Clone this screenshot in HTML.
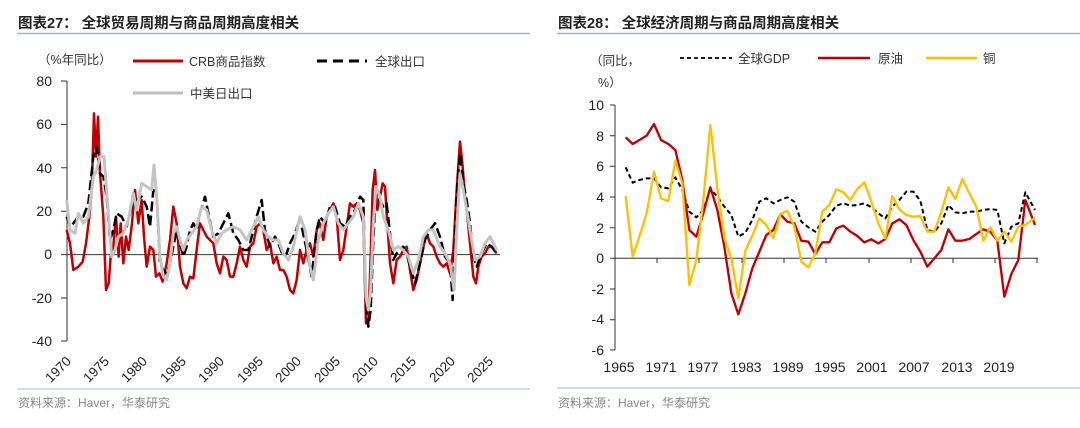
<!DOCTYPE html><html><head><meta charset="utf-8"><style>
body{margin:0;background:#fff;width:1080px;height:423px;overflow:hidden}
svg{font-family:"Liberation Sans","Noto Sans CJK SC",sans-serif}
</style></head><body>
<svg width="1080" height="423" viewBox="0 0 1080 423">
<g font-weight="bold" font-size="14.5" fill="#222">
<text x="18" y="28">图表27：  全球贸易周期与商品周期高度相关</text>
<text x="558" y="28">图表28：  全球经济周期与商品周期高度相关</text>
</g>
<line x1="17" y1="33.5" x2="530" y2="33.5" stroke="#9fb5d3" stroke-width="1.5"/>
<line x1="557" y1="33.5" x2="1080" y2="33.5" stroke="#9fb5d3" stroke-width="1.5"/>
<line x1="17" y1="389" x2="530" y2="389" stroke="#b5c6de" stroke-width="1.2"/>
<line x1="557" y1="388" x2="1080" y2="388" stroke="#b5c6de" stroke-width="1.2"/>
<g font-size="12" fill="#888"><text x="18" y="407">资料来源：Haver，华泰研究</text><text x="558" y="407">资料来源：Haver，华泰研究</text></g>

<!-- LEFT -->
<g font-size="12.5" fill="#333">
<text x="38" y="64">（%年同比）</text>
<text x="189" y="66">CRB商品指数</text><text x="375" y="66">全球出口</text><text x="190" y="98">中美日出口</text>
</g>
<line x1="133" y1="61" x2="183" y2="61" stroke="#c00000" stroke-width="3"/>
<line x1="317" y1="61" x2="367" y2="61" stroke="#000" stroke-width="3" stroke-dasharray="10,6"/>
<line x1="133" y1="93" x2="183" y2="93" stroke="#bfbfbf" stroke-width="3"/>
<g font-size="14" fill="#222" text-anchor="end">
<text x="52" y="86">80</text><text x="52" y="129">60</text><text x="52" y="173">40</text><text x="52" y="216">20</text><text x="52" y="259">0</text><text x="52" y="303">-20</text><text x="52" y="346">-40</text>
</g>
<path d="M67 81V341M61 81H67M61 124.4H67M61 167.8H67M61 211.2H67M61 254.6H67M61 298H67M61 341H67" stroke="#333" fill="none"/>
<line x1="67" y1="254.6" x2="500" y2="254.6" stroke="#333"/>
<g font-size="13.5" fill="#222" text-anchor="end">
<text transform="translate(72,362) rotate(-45)">1970</text>
<text transform="translate(110,362) rotate(-45)">1975</text>
<text transform="translate(148,362) rotate(-45)">1980</text>
<text transform="translate(187,362) rotate(-45)">1985</text>
<text transform="translate(225,362) rotate(-45)">1990</text>
<text transform="translate(264,362) rotate(-45)">1995</text>
<text transform="translate(302,362) rotate(-45)">2000</text>
<text transform="translate(341,362) rotate(-45)">2005</text>
<text transform="translate(379,362) rotate(-45)">2010</text>
<text transform="translate(417,362) rotate(-45)">2015</text>
<text transform="translate(456,362) rotate(-45)">2020</text>
<text transform="translate(494,362) rotate(-45)">2025</text>
</g>
<g transform="translate(0,90) scale(0.33333)" fill="none" stroke-linejoin="round">
<polyline stroke="#c00000" stroke-width="7.5" points="200,420 210,460 220,540 235,530 248,515 258,460 268,380 275,300 282,70 288,200 294,80 300,250 310,380 318,600 326,580 332,500 340,470 348,380 356,500 362,400 370,520 378,440 386,480 396,400 405,300 415,400 425,330 432,440 440,530 450,470 460,480 468,560 478,550 488,575 500,520 510,450 520,350 530,400 540,530 550,580 560,595 570,560 580,565 590,480 600,400 610,420 620,440 630,450 640,460 650,520 660,550 670,500 680,510 690,560 700,560 710,520 720,470 730,510 740,530 750,470 760,460 770,410 780,400 790,420 800,480 810,460 820,520 830,500 840,540 850,540 860,560 870,600 880,610 890,570 900,480 910,520 920,480 930,460 940,500 950,420 960,400 970,450 980,380 990,360 1000,340 1010,380 1020,510 1030,480 1040,410 1050,340 1060,350 1070,340 1080,360 1090,400 1098,700 1105,700 1112,500 1118,300 1125,240 1132,360 1140,320 1148,280 1155,290 1162,400 1170,520 1180,580 1190,510 1200,500 1210,480 1220,470 1230,540 1240,600 1250,570 1260,520 1270,470 1280,430 1290,460 1300,470 1310,500 1320,520 1330,530 1340,520 1350,550 1360,480 1370,300 1380,155 1388,230 1395,320 1402,380 1410,460 1420,560 1428,580 1435,530 1445,500 1455,490 1465,470 1475,470 1490,490"/>
<polyline stroke="#000" stroke-width="7.5" stroke-dasharray="30,12" points="200,380 210,410 220,400 235,380 250,380 265,340 280,200 290,170 300,250 310,260 320,320 330,450 340,420 350,370 365,380 380,410 395,350 410,330 425,320 440,350 450,410 460,300 470,320 480,520 490,540 500,550 510,520 520,470 530,420 540,460 550,500 560,470 570,420 580,400 590,420 600,370 615,320 625,370 640,440 655,430 670,400 685,370 700,430 715,450 730,480 745,480 760,420 770,380 785,330 795,420 810,470 825,440 835,460 850,500 860,490 870,460 885,430 895,400 905,410 920,480 935,560 950,420 960,380 975,400 990,350 1005,350 1020,400 1035,410 1050,380 1065,360 1080,320 1090,330 1098,650 1105,710 1112,660 1120,450 1128,300 1140,330 1150,350 1160,340 1170,430 1180,510 1190,490 1200,480 1210,470 1220,490 1230,530 1245,580 1260,520 1275,450 1290,420 1305,400 1320,440 1335,500 1350,520 1358,630 1365,450 1372,280 1380,190 1390,280 1400,330 1410,400 1420,500 1430,530 1445,490 1460,460 1475,470 1490,490"/>
<polyline stroke="#c4c4c4" stroke-width="9" points="200,330 210,420 225,430 235,370 250,400 265,380 280,260 290,240 300,200 312,200 322,330 335,500 345,480 355,440 370,430 385,390 400,310 410,360 425,280 440,290 455,300 462,225 470,320 480,500 490,560 500,570 510,520 520,430 530,410 540,450 550,480 560,450 575,430 590,410 605,350 620,360 635,420 650,460 665,430 680,420 700,410 720,420 740,450 760,410 775,380 790,420 805,440 820,450 835,450 850,490 865,510 880,470 900,380 915,420 930,530 940,570 955,450 970,400 985,370 1000,350 1015,400 1030,420 1045,400 1060,380 1075,340 1090,380 1098,620 1105,660 1112,600 1120,400 1128,290 1140,320 1150,380 1165,420 1180,480 1195,470 1210,480 1225,500 1240,550 1255,510 1270,440 1285,420 1300,420 1320,470 1335,490 1350,520 1362,600 1370,420 1380,250 1390,300 1400,360 1410,420 1425,510 1440,500 1455,460 1470,440 1490,480"/>
</g>

<!-- RIGHT -->
<g font-size="12.5" fill="#333">
<text x="590" y="65">（同比，</text><text x="598" y="87">%）</text>
<text x="738" y="63">全球GDP</text><text x="878" y="63">原油</text><text x="983" y="63">铜</text>
</g>
<line x1="680" y1="58" x2="732" y2="58" stroke="#000" stroke-width="1.8" stroke-dasharray="4,3"/>
<line x1="818" y1="58" x2="870" y2="58" stroke="#c00000" stroke-width="2.5"/>
<line x1="926" y1="58" x2="977" y2="58" stroke="#ffc000" stroke-width="2.5"/>
<g font-size="14" fill="#222" text-anchor="end">
<text x="604" y="110">10</text><text x="604" y="141">8</text><text x="604" y="171">6</text><text x="604" y="202">4</text><text x="604" y="233">2</text><text x="604" y="263">0</text><text x="604" y="294">-2</text><text x="604" y="324">-4</text><text x="604" y="355">-6</text>
</g>
<path d="M615 105V350M610 105H615M610 135.7H615M610 166.3H615M610 197H615M610 227.7H615M610 258.3H615M610 289H615M610 319.7H615M610 350H615" stroke="#333" fill="none"/>
<path d="M615 258.3H1038M657 258V263M699 258V263M742 258V263M784 258V263M826 258V263M869 258V263M911 258V263M953 258V263M995 258V263M1037 258V263" stroke="#333" fill="none"/>
<g font-size="14" fill="#222" text-anchor="middle">
<text x="619" y="372">1965</text><text x="661" y="372">1971</text><text x="703" y="372">1977</text><text x="746" y="372">1983</text><text x="788" y="372">1989</text><text x="830" y="372">1995</text><text x="872" y="372">2001</text><text x="914" y="372">2007</text><text x="957" y="372">2013</text><text x="999" y="372">2019</text>
</g>
<g transform="translate(600,90) scale(0.33333)" fill="none" stroke-linejoin="round">
<polyline stroke="#000" stroke-width="6" stroke-dasharray="14,9" points="77,232 98,278 118,270 140,265 162,265 183,292 205,295 226,262 247,300 268,365 289,382 310,360 331,297 352,320 373,350 394,375 415,440 436,428 457,390 478,335 499,325 520,340 541,330 562,322 583,335 604,395 625,412 646,425 667,395 688,375 709,347 730,340 751,347 772,345 793,340 814,352 835,370 856,385 877,350 898,330 919,305 940,305 961,332 982,420 1003,425 1024,400 1045,345 1066,367 1087,370 1108,365 1129,365 1150,360 1171,357 1192,360 1213,460 1234,410 1255,400 1276,307 1305,360"/>
<polyline stroke="#c00000" stroke-width="7" points="77,142 98,162 118,150 140,137 162,102 183,150 205,162 226,180 247,270 268,420 289,440 310,370 331,292 352,360 373,470 394,610 415,673 436,610 457,535 478,485 499,435 520,420 541,373 562,395 583,400 604,452 625,455 646,492 667,457 688,457 709,415 730,407 751,425 772,438 793,457 814,448 835,460 856,447 877,400 898,388 919,405 940,450 961,485 982,530 1003,505 1024,480 1045,418 1066,452 1087,452 1108,447 1129,432 1150,418 1171,425 1192,452 1213,620 1234,552 1255,510 1276,330 1305,405"/>
<polyline stroke="#ffc000" stroke-width="7" points="77,318 98,500 118,440 140,370 162,245 183,325 205,333 226,212 247,280 268,585 289,510 310,330 331,105 352,295 373,445 394,505 415,625 436,482 457,437 478,385 499,405 520,445 541,372 562,362 583,410 604,515 625,532 646,490 667,365 688,345 709,298 730,307 751,330 772,297 793,277 814,335 835,400 856,445 877,318 898,358 919,375 940,380 961,378 982,425 1003,425 1024,365 1045,292 1066,327 1087,267 1108,310 1129,350 1150,452 1171,412 1192,452 1213,425 1234,455 1255,410 1276,405 1305,383"/>
</g>
</svg>
</body></html>
